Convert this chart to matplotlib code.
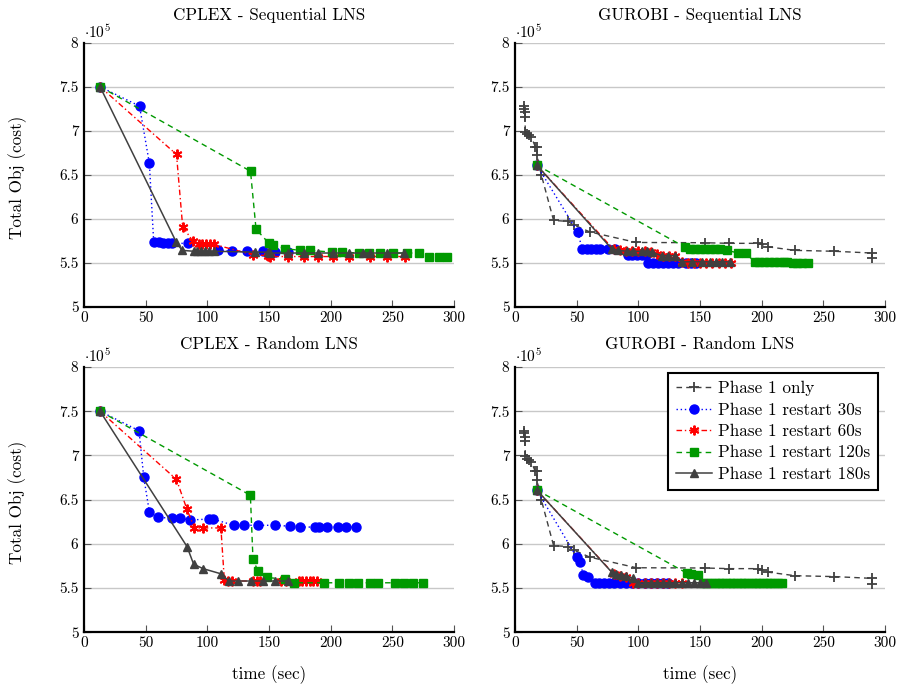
import matplotlib
matplotlib.use("Agg")
import matplotlib.pyplot as plt
from matplotlib.ticker import FixedLocator, FixedFormatter

plt.rcParams['font.family'] = ['cmr10', 'DejaVu Serif']
plt.rcParams['mathtext.fontset'] = 'cm'
plt.rcParams['axes.formatter.use_mathtext'] = True

# ---------------- data (Total Obj in units of 1e5, time in sec) ----------------
series_names = ["Phase 1 only", "Phase 1 restart 30s", "Phase 1 restart 60s",
                "Phase 1 restart 120s", "Phase 1 restart 180s"]
panel_titles = ["CPLEX - Sequential LNS", "GUROBI - Sequential LNS",
                "CPLEX - Random LNS", "GUROBI - Random LNS"]
x_ticks = [0, 50, 100, 150, 200, 250, 300]
y_ticks = [5, 5.5, 6, 6.5, 7, 7.5, 8]
y_tick_labels = ["5", "5.5", "6", "6.5", "7", "7.5", "8"]

# Phase 1 only (GUROBI)
gp1_x = [7.3, 7.6, 7.8, 8.0, 8.4, 9.7, 11.6, 13.2, 16.4, 17.8, 17.8, 21.3, 31.3, 42.7,
         47.6, 60.6, 98.4, 154, 173.8, 197.3, 200, 205.4, 227, 258.7, 289.3, 289.3]
gp1_y = [7.28, 7.25, 7.21, 7.16, 6.99, 6.96, 6.95, 6.93, 6.82, 6.82, 6.72, 6.50, 5.98, 5.97,
         5.93, 5.85, 5.73, 5.727, 5.72, 5.72, 5.71, 5.68, 5.64, 5.63, 5.61, 5.55]

# CPLEX - Sequential
cs30_x = [13, 45, 53, 56.5, 61, 64, 68, 71, 84, 109, 120, 132, 145, 155, 165]
cs30_y = [7.5, 7.28, 6.63, 5.74, 5.73, 5.72, 5.72, 5.72, 5.72, 5.64, 5.63, 5.63, 5.63, 5.62, 5.62]
cs60_x = [13, 75, 80, 88, 93, 96, 99, 102, 105, 137, 149, 151, 165.5, 178, 190, 202, 214.5,
          232, 245.5, 260]
cs60_y = [7.5, 6.73, 5.91, 5.75, 5.71, 5.71, 5.71, 5.71, 5.71, 5.59, 5.58, 5.57, 5.57, 5.57,
          5.57, 5.57, 5.57, 5.57, 5.57, 5.57]
cs120_x = [13, 135, 139.5, 150, 153.6, 163, 175.4, 183.5, 201, 209, 222.6, 230.7, 240, 250.9,
           261.7, 272, 279.5, 287.6, 294.4]
cs120_y = [7.5, 6.54, 5.88, 5.72, 5.70, 5.66, 5.64, 5.64, 5.62, 5.62, 5.61, 5.61, 5.61, 5.61,
           5.61, 5.61, 5.56, 5.56, 5.56]
cs180_x = [13, 74.6, 79.5, 89, 92, 95, 98, 101, 105, 139, 149.5, 151, 165.5, 178, 190, 202,
           214.5, 226.5, 232, 245.5, 259.7]
cs180_y = [7.5, 5.74, 5.64, 5.63, 5.63, 5.63, 5.63, 5.63, 5.63, 5.62, 5.62, 5.61, 5.61, 5.61,
           5.61, 5.61, 5.61, 5.61, 5.61, 5.61, 5.61]

# GUROBI - Sequential
gs30_x = [17.6, 50.8, 54.6, 58, 62, 66, 69, 75.7, 81, 91.5, 95, 99, 103, 106.4, 108, 112, 116,
          120, 124, 128, 132, 139, 143, 147]
gs30_y = [6.61, 5.85, 5.65, 5.65, 5.65, 5.65, 5.65, 5.65, 5.65, 5.59, 5.59, 5.59, 5.59, 5.59,
          5.50, 5.50, 5.50, 5.50, 5.50, 5.50, 5.50, 5.50, 5.50, 5.50]
gs60_x = [17.6, 80, 85, 90, 95, 100, 105, 110, 115, 120, 125, 130, 135, 140, 145, 150, 155,
          160, 165, 170, 175]
gs60_y = [6.61, 5.65, 5.64, 5.63, 5.63, 5.63, 5.63, 5.62, 5.60, 5.58, 5.58, 5.58, 5.51, 5.50,
          5.50, 5.50, 5.50, 5.50, 5.50, 5.50, 5.50]
gs120_x = [17.6, 138, 142, 146, 150, 154, 158, 162, 166, 172, 181, 187, 194.6, 198, 202, 206,
           210, 214, 218, 220.4, 225.5, 229, 233, 237.6]
gs120_y = [6.61, 5.675, 5.66, 5.66, 5.66, 5.66, 5.66, 5.66, 5.66, 5.64, 5.61, 5.61, 5.505,
           5.505, 5.505, 5.505, 5.505, 5.505, 5.505, 5.505, 5.50, 5.50, 5.50, 5.50]
gs180_x = [17.6, 78.3, 83.7, 90.5, 96, 102.7, 106.8, 110.8, 118.9, 124.3, 129.7, 135.1, 143.2,
           151.3, 158, 163, 168, 174]
gs180_y = [6.61, 5.66, 5.64, 5.63, 5.63, 5.63, 5.63, 5.62, 5.58, 5.58, 5.58, 5.51, 5.51, 5.51,
           5.51, 5.51, 5.51, 5.51]

# CPLEX - Random
cr30_x = [13, 44.6, 48.4, 53, 60, 71.4, 77.5, 85.7, 101, 104.6, 121.3, 129.4, 141, 155, 166.7,
          175.4, 187.6, 190.3, 197, 205.7, 212.7, 220.6]
cr30_y = [7.5, 7.28, 6.76, 6.36, 6.30, 6.29, 6.29, 6.27, 6.28, 6.28, 6.21, 6.21, 6.21, 6.21,
          6.20, 6.19, 6.19, 6.19, 6.19, 6.19, 6.19, 6.19]
cr60_x = [13, 74.9, 83.5, 89.5, 96.2, 111, 113.8, 117, 120, 137, 140, 143, 160, 164, 174, 177,
          180, 183, 186, 189]
cr60_y = [7.5, 6.73, 6.39, 6.18, 6.18, 6.18, 5.59, 5.58, 5.58, 5.58, 5.58, 5.58, 5.58, 5.58,
          5.58, 5.58, 5.58, 5.58, 5.58, 5.58]
cr120_x = [13, 134.9, 137, 141, 148.4, 163.3, 170, 194.3, 206.5, 214.6, 221.9, 232.2, 238.2,
           252.5, 259.3, 266.9, 275]
cr120_y = [7.5, 6.55, 5.83, 5.69, 5.62, 5.60, 5.56, 5.56, 5.56, 5.56, 5.56, 5.56, 5.56, 5.56,
           5.56, 5.56, 5.56]
cr180_x = [13, 83.5, 88.9, 96.5, 111.4, 117.3, 125, 135, 145, 155, 165]
cr180_y = [7.5, 5.97, 5.77, 5.72, 5.66, 5.58, 5.58, 5.58, 5.58, 5.58, 5.58]

# GUROBI - Random
gr30_x = [17.6, 50, 52.7, 55.4, 59.5, 64.9, 68, 72, 76, 80, 85, 90, 95, 100, 105, 110, 115,
          120, 124]
gr30_y = [6.61, 5.85, 5.79, 5.65, 5.625, 5.56, 5.56, 5.56, 5.56, 5.56, 5.56, 5.56, 5.56, 5.56,
          5.56, 5.56, 5.56, 5.56, 5.56]
gr60_x = [17.6, 80, 85, 90, 96, 100, 105, 110, 115, 120, 125, 130, 135]
gr60_y = [6.61, 5.66, 5.64, 5.62, 5.56, 5.56, 5.56, 5.56, 5.56, 5.56, 5.56, 5.56, 5.56]
gr120_x = [17.6, 139.2, 143, 148, 152.7, 156, 159, 162, 165, 168, 171, 174, 177, 180, 183, 186,
           189, 192, 195, 198, 201, 204, 207, 210, 213, 216.3]
gr120_y = [6.61, 5.67, 5.66, 5.65, 5.56, 5.56, 5.56, 5.56, 5.56, 5.56, 5.56, 5.56, 5.56, 5.56,
           5.56, 5.56, 5.56, 5.56, 5.56, 5.56, 5.56, 5.56, 5.56, 5.56, 5.56, 5.56]
gr180_x = [17.6, 78.4, 82, 86, 90, 96, 100, 105, 110, 115, 120, 125, 130, 135, 140, 145, 150, 155]
gr180_y = [6.61, 5.68, 5.66, 5.65, 5.64, 5.61, 5.56, 5.56, 5.56, 5.56, 5.56, 5.56, 5.56, 5.56,
           5.56, 5.56, 5.56, 5.56]

panels = [
    [([], []), (cs30_x, cs30_y), (cs60_x, cs60_y), (cs120_x, cs120_y), (cs180_x, cs180_y)],
    [(gp1_x, gp1_y), (gs30_x, gs30_y), (gs60_x, gs60_y), (gs120_x, gs120_y), (gs180_x, gs180_y)],
    [([], []), (cr30_x, cr30_y), (cr60_x, cr60_y), (cr120_x, cr120_y), (cr180_x, cr180_y)],
    [(gp1_x, gp1_y), (gr30_x, gr30_y), (gr60_x, gr60_y), (gr120_x, gr120_y), (gr180_x, gr180_y)],
]

GRAY = '#404040'
GREEN = '#009900'
styles = [
    dict(color=GRAY, linestyle=(0, (4, 3)), marker='+', markersize=7.5, markeredgewidth=1.3, lw=1.0),
    dict(color='#0000ff', linestyle=(0, (1, 2)), marker='o', markersize=6.5, lw=1.0),
    dict(color='#ff0000', linestyle=(0, (4, 2, 1, 2)), marker=(6, 2, 0), markersize=7,
         markeredgewidth=1.4, lw=1.0),
    dict(color=GREEN, linestyle=(0, (4, 3)), marker='s', markersize=6, lw=1.0),
    dict(color=GRAY, linestyle='-', marker='^', markersize=6, lw=1.1),
]

FS_TICK = 11
FS_TEXT = 12.3

fig = plt.figure(figsize=(8.99, 6.88), dpi=100)
W, H = 899.0, 688.0
rects = [
    (84, 42.7, 454, 306.7),
    (515, 42.7, 885, 306.7),
    (84, 367, 454, 632.3),
    (515, 367, 885, 632.3),
]
title_y = [15.5, 15.5, 344.5, 344.5]

for i, (x0, y0, x1, y1) in enumerate(rects):
    ax = fig.add_axes([x0 / W, 1 - y1 / H, (x1 - x0) / W, (y1 - y0) / H])
    ax.set_xlim(0, 300)
    ax.set_ylim(5, 8)
    for (xs, ys), st, name in zip(panels[i], styles, series_names):
        ax.plot(xs, ys, label=name, clip_on=False, **st)
    ax.yaxis.set_major_locator(FixedLocator(y_ticks))
    ax.yaxis.set_major_formatter(FixedFormatter(y_tick_labels))
    ax.xaxis.set_major_locator(FixedLocator(x_ticks))
    ax.xaxis.set_major_formatter(FixedFormatter([str(t) for t in x_ticks]))
    ax.grid(axis='y', color='#c8c8c8', lw=1.0)
    ax.set_axisbelow(True)
    for s in ('top', 'right'):
        ax.spines[s].set_visible(False)
    for s in ('left', 'bottom'):
        ax.spines[s].set_linewidth(1.6)
        ax.spines[s].set_color('black')
    ax.tick_params(axis='both', direction='in', length=5, width=0.8, labelsize=FS_TICK,
                   color='#555555')
    ax.tick_params(axis='x', pad=3)
    ax.tick_params(axis='y', pad=4)
    fig.text((x0 + x1) / 2 / W, 1 - title_y[i] / H, panel_titles[i], fontsize=FS_TEXT,
             ha='center', va='center')
    ax.text(0.0, 1.008, r'$\cdot 10^5$', transform=ax.transAxes, fontsize=FS_TICK,
            ha='left', va='bottom')
    if i in (0, 2):
        fig.text(18 / W, 1 - ((y0 + y1) / 2 + 3) / H, 'Total Obj (cost)', fontsize=FS_TEXT,
                 rotation=90, ha='center', va='center')
    if i in (2, 3):
        fig.text((x0 + x1) / 2 / W, 1 - 675 / H, 'time (sec)', fontsize=FS_TEXT,
                 ha='center', va='center')
    if i == 3:
        leg = ax.legend(loc='upper right', bbox_to_anchor=(0.981, 0.977), borderaxespad=0,
                        fancybox=False, framealpha=1, edgecolor='black', fontsize=FS_TEXT,
                        handlelength=2.1, handletextpad=0.35, borderpad=0.45,
                        labelspacing=0.36)
        leg.get_frame().set_linewidth(1.5)

fig.savefig('out.png', dpi=100)
